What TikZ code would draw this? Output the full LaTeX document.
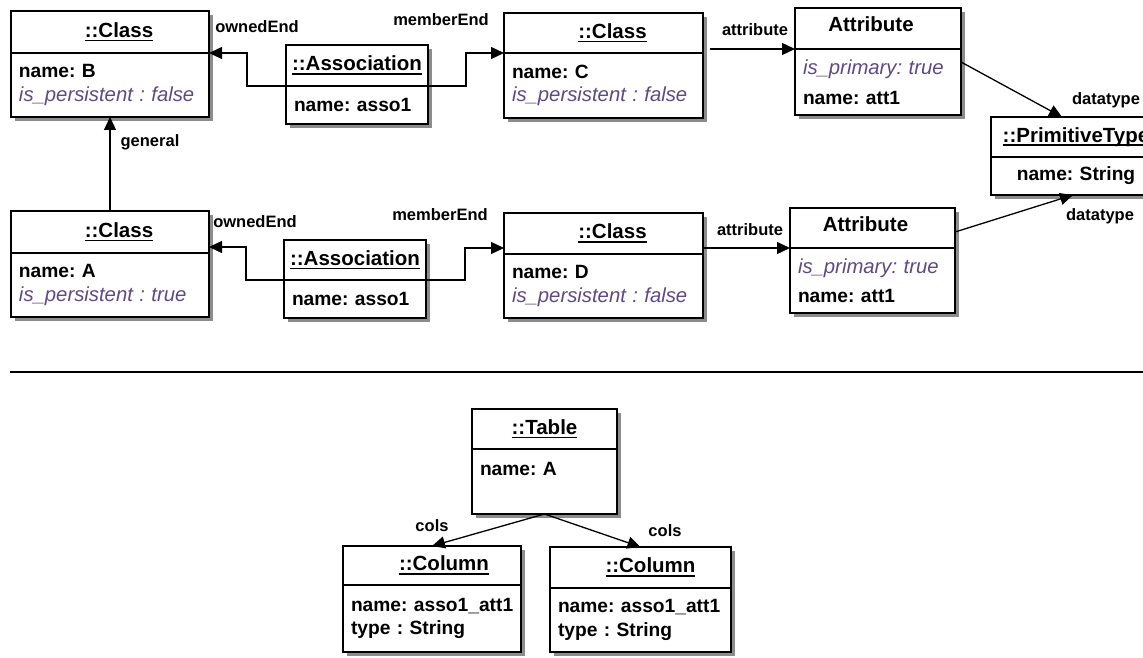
\documentclass[tikz,border=0pt]{standalone}
\usepackage{fontspec}
\setmainfont{Liberation Sans}
\usetikzlibrary{arrows.meta,positioning,backgrounds}
\definecolor{cVal}{HTML}{5E4A85}
\definecolor{cShd}{HTML}{8C8C8C}
\newcommand{\hdfont}{\fontsize{20.5}{23.5}\selectfont\bfseries}
\newcommand{\bdfont}{\fontsize{19.2}{23.5}\selectfont\bfseries\frenchspacing}
\newcommand{\lbfont}{\fontsize{16.5}{19}\selectfont\bfseries}
\newcommand{\isval}[1]{{\fontsize{20.3}{23.5}\selectfont\mdseries\itshape\color{cVal}#1}}
\newcommand{\uln}[1]{\setbox0\hbox{#1}\rlap{\rule[-4pt]{\wd0}{1.8pt}}\box0}
\tikzset{
  every node/.style={text=black},
  objhd/.style={draw, line width=1.4pt, fill=white, outer sep=0pt, inner sep=0pt, anchor=north west, font=\hdfont},
  objbd/.style={draw, line width=1.4pt, fill=white, outer sep=0pt, inner xsep=8pt, inner ysep=0pt, font=\bdfont,
    align=left, minimum width=#1, text width=#1-16},
  hoff/.style={execute at begin node={\hspace*{#1}}},
  lbl/.style={font=\lbfont, inner sep=1pt},
  arr/.style={-{Triangle[length=13pt,width=12pt]}, line width=1.3pt},
}

\begin{document}
\begin{tikzpicture}[x=1pt,y=-1pt]
\useasboundingbox (0,0) rectangle (1143,658);
% ---------------- source model: classes B and A
\node[objhd, hoff=18pt, minimum width=198, minimum height=42] (clB) at (11,11) {\uln{::Class}};
\node[objbd=198, minimum height=64, below=0pt of clB] (clBv) {name: B\\ \isval{is\_persistent : false}};
\node[objhd, hoff=18pt, minimum width=198, minimum height=42] (clA) at (11,211) {\uln{::Class}};
\node[objbd=198, minimum height=64, below=0pt of clA] (clAv) {name: A\\ \isval{is\_persistent : true}};

% ---------------- associations
\node[objhd, minimum width=142, minimum height=41] (asT) at (286,45) {\uln{::Association}};
\node[objbd=142, minimum height=38, below=0pt of asT] (asTv) {name: asso1};
\node[objhd, minimum width=142, minimum height=40] (asB) at (284,240) {\uln{::Association}};
\node[objbd=142, minimum height=38, below=0pt of asB] (asBv) {name: asso1};

% ---------------- classes C and D
\node[objhd, hoff=18pt, minimum width=199, minimum height=40] (clC) at (504,13) {\uln{::Class}};
\node[objbd=199, minimum height=65, below=0pt of clC] (clCv) {name: C\\ \isval{is\_persistent : false}};
\node[objhd, hoff=18pt, minimum width=199, minimum height=41] (clD) at (504,213) {\uln{::Class}};
\node[objbd=199, minimum height=64, below=0pt of clD] (clDv) {name: D\\ \isval{is\_persistent : false}};

% ---------------- attributes and primitive type
\node[objhd, hoff=-14pt, minimum width=166, minimum height=41, text depth=8pt] (atT) at (795,8) {Attribute};
\node[objbd=166, minimum height=66, below=0pt of atT] (atTv) {\isval{is\_primary: true}\\[6pt]name: att1};
\node[objhd, hoff=-14pt, minimum width=165, minimum height=40, text depth=8pt] (atB) at (790,208) {Attribute};
\node[objbd=165, minimum height=65, below=0pt of atB] (atBv) {\isval{is\_primary: true}\\[6pt]name: att1};
\node[objhd, minimum width=170, minimum height=40] (pt) at (991,117) {\uln{::PrimitiveType}};
\node[objbd=170, minimum height=38, below=0pt of pt, align=center] (ptv) {name: String};

% ---------------- links
\draw[arr] (clA.north) -- (clBv.south);
\draw[arr] (asT.south west) -- ++(-39,0) |- (clB.south east);
\draw[arr] (asT.south east) -- ++(38,0) |- (clC.south west);
\draw[arr] (asB.south west) -- ++(-38,0) |- ([yshift=6pt]clA.south east);
\draw[arr] (asB.south east) -- ++(39,0) |- ([yshift=6pt]clD.south west);
\draw[arr] ([xshift=7pt]clC.east |- atT.south west) -- (atT.south west);
\draw[arr] (clD.east |- atB.south west) -- (atB.south west);
\draw[arr] ([yshift=-13pt]atTv.north east) -- ([xshift=-14pt]pt.north);
\draw[arr] ([yshift=-4pt]atB.east) -- ([xshift=-3pt]ptv.south);
\node[lbl] (lGen) at (150,142) {general};
\node[lbl] (lOwnT) at (257,27) {ownedEnd};
\node[lbl] (lMemT) at (441,20) {memberEnd};
\node[lbl] (lOwnB) at (255,222) {ownedEnd};
\node[lbl] (lMemB) at (440,215) {memberEnd};
\node[lbl] (lAttT) at (755,30) {attribute};
\node[lbl] (lAttB) at (750,230) {attribute};
\node[lbl] (lDtT) at (1106,100) {datatype};
\node[lbl] (lDtB) at (1100,216) {datatype};

% ---------------- separator
\draw[line width=2pt] (10,372) -- (1143,372);

% ---------------- target model: table and columns
\node[objhd, minimum width=145, minimum height=40] (tb) at (472,409) {\uln{::Table}};
\node[objbd=145, minimum height=65, below=0pt of tb] (tbv) {name: A\\[2pt]\mbox{}};
\node[objhd, hoff=24pt, minimum width=178, minimum height=39] (coL) at (343,546) {\uln{::Column}};
\node[objbd=178, minimum height=67, below=0pt of coL] (coLv) {\mbox{name: asso1\_att1}\\type : String};
\node[objhd, hoff=20pt, minimum width=181, minimum height=41] (coR) at (550,547) {\uln{::Column}};
\node[objbd=181, minimum height=64, below=0pt of coR] (coRv) {\mbox{name: asso1\_att1}\\type : String};
\draw[arr] (tbv.south) -- (coL.north);
\draw[arr] (tbv.south) -- (coR.north);
\node[lbl] (lColL) at (432,526) {cols};
\node[lbl] (lColR) at (665,531) {cols};

% ---------------- drop shadows
\begin{scope}[on background layer]
\foreach \h/\b in {clB/clBv,clA/clAv,asT/asTv,asB/asBv,clC/clCv,clD/clDv,atT/atTv,atB/atBv,pt/ptv,tb/tbv,coL/coLv,coR/coRv}
  \fill[cShd] ([xshift=4pt,yshift=-4pt]\h.north west) rectangle ([xshift=4pt,yshift=-4pt]\b.south east);
\end{scope}
\end{tikzpicture}
\end{document}
